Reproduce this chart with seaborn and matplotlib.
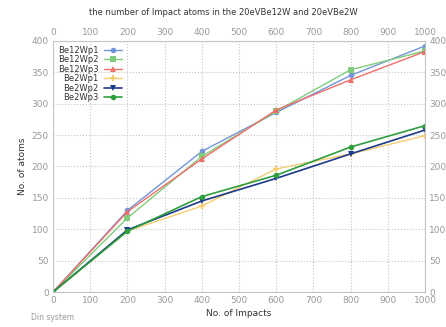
import pandas as pd
import matplotlib.pyplot as plt
import seaborn as sns

impacts = [0, 200, 400, 600, 800, 1000]
be12wp1 = [0, 130, 224, 286, 345, 392]
be12wp2 = [0, 118, 216, 288, 354, 384]
be12wp3 = [0, 128, 212, 290, 338, 383]
be2wp1 = [0, 97, 137, 196, 220, 249]
be2wp2 = [0, 99, 145, 181, 220, 258]
be2wp3 = [0, 97, 152, 186, 231, 265]

series = ['Be12Wp1', 'Be12Wp2', 'Be12Wp3', 'Be2Wp1', 'Be2Wp2', 'Be2Wp3']
values = [be12wp1, be12wp2, be12wp3, be2wp1, be2wp2, be2wp3]
colors = ['#7394d6', '#80cc7a', '#ef6f6a', '#f6cd72', '#1d3a8a', '#2f9e3e']
markers = ['o', 's', '^', 'P', 'v', 'o']
widths = [1.0, 1.0, 1.0, 1.0, 1.2, 1.2]

rows = []
for name, vals in zip(series, values):
    for x, y in zip(impacts, vals):
        rows.append({'impacts': x, 'atoms': y, 'series': name})
df = pd.DataFrame(rows)

sns.set_style('white')
fig = plt.figure(figsize=(4.46, 3.27), dpi=100)
ax = fig.add_axes([0.119, 0.107, 0.834, 0.768])

for name, c, m, w in zip(series, colors, markers, widths):
    sub = df[df['series'] == name]
    sns.lineplot(data=sub, x='impacts', y='atoms', ax=ax, color=c, marker=m,
                 markersize=4, markeredgewidth=0, linewidth=w, label=name)

gray = '#999999'
ax.set_xlim(0, 1000)
ax.set_ylim(0, 400)
ax.set_xticks(range(0, 1001, 100))
ax.set_yticks(range(0, 401, 50))
ax.grid(True, linestyle=':', color='#c4c4c4', linewidth=0.8)
ax.tick_params(labelsize=6.5, colors=gray, length=0, pad=3,
               top=True, right=True, labeltop=True, labelright=True)
for s in ax.spines.values():
    s.set_color('#c4c4c4')
    s.set_linewidth(0.8)

ax.set_xlabel('No. of Impacts', fontsize=6.5, color='#333333', labelpad=3)
ax.set_ylabel('No. of atoms', fontsize=6.5, color='#333333', labelpad=3)
fig.text(0.5, 0.955, 'the number of Impact atoms in the 20eVBe12W and 20eVBe2W',
         ha='center', fontsize=6, color='#333333')
fig.text(0.07, 0.02, 'Din system', fontsize=5.5, color=gray)

leg = ax.legend(loc='upper left', bbox_to_anchor=(0.0, 1.0), fontsize=6,
                markerfirst=False, frameon=False, handlelength=2.2,
                labelspacing=0.05, borderaxespad=0.2, handletextpad=0.6)
for t in leg.get_texts():
    t.set_color('#333333')
    t.set_ha('right')

fig.savefig('out.png', dpi=100)
